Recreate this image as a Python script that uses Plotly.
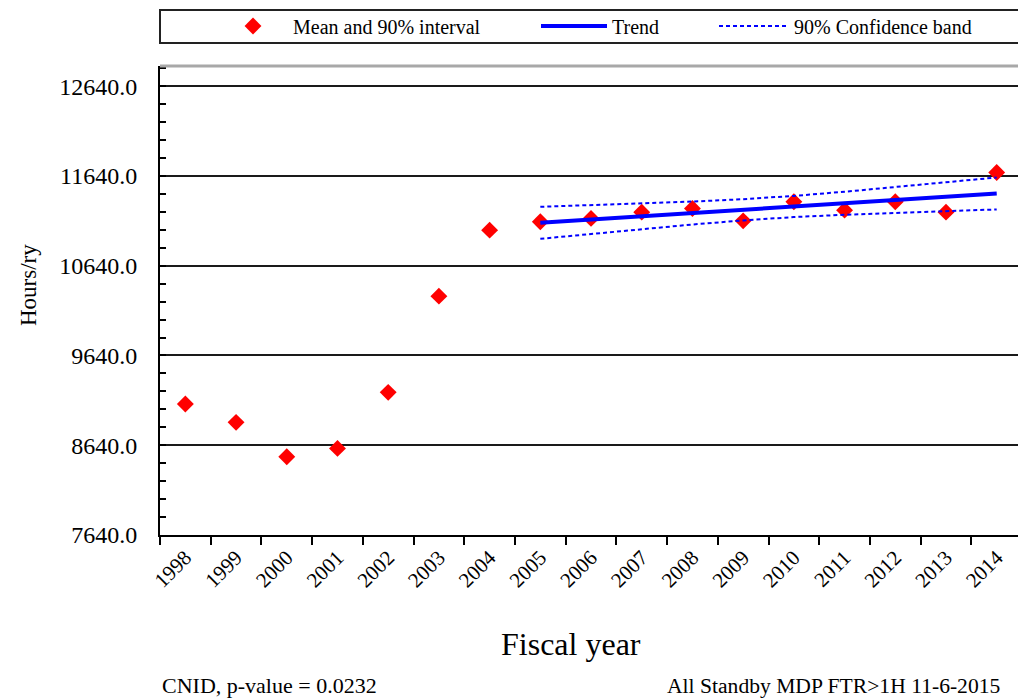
import plotly.graph_objects as go

# --------------------------------------------------
# Data
# --------------------------------------------------
years = [str(y) for y in range(1998, 2015)]
mean_hours = [9100, 8895, 8512, 8605, 9229, 10301, 11036, 11129, 11167,
              11237, 11278, 11140, 11352, 11259, 11352, 11237, 11679]

trend_years = [str(y) for y in range(2005, 2015)]
trend_hours = [11118, 11154, 11191, 11227, 11263, 11300, 11336, 11372, 11409, 11445]
band_upper = [11296, 11314, 11334, 11355, 11381, 11418, 11464, 11515, 11569, 11623]
band_lower = [10940, 10994, 11048, 11099, 11145, 11182, 11208, 11229, 11249, 11267]

y_ticks = [7640, 8640, 9640, 10640, 11640, 12640]

FONT = "Liberation Serif"

fig = go.Figure()

fig.add_trace(go.Scatter(
    x=years, y=mean_hours, mode='markers', name='Mean and 90% interval',
    marker=dict(symbol='diamond', size=13, color='#ff0000'),
    legend='legend'
))
fig.add_trace(go.Scatter(
    x=trend_years, y=trend_hours, mode='lines', name='Trend',
    line=dict(color='#0000ff', width=4),
    legend='legend2'
))
fig.add_trace(go.Scatter(
    x=trend_years, y=band_upper, mode='lines', name='90% Confidence band',
    line=dict(color='#0000ff', width=2, dash='4px,3px'),
    legendgroup='band', legend='legend3'
))
fig.add_trace(go.Scatter(
    x=trend_years, y=band_lower, mode='lines', name='90% Confidence band',
    line=dict(color='#0000ff', width=2, dash='4px,3px'),
    legendgroup='band', showlegend=False, legend='legend3'
))

# plot area in pixels: left 160, right 1018, top 66, bottom 535
def px_x(p):
    return (p - 160) / 858

def px_y(p):
    return (535 - p) / 469

legend_style = dict(
    orientation='h', yanchor='middle', y=px_y(26), xanchor='left',
    bgcolor='rgba(0,0,0,0)', borderwidth=0,
    font=dict(family=FONT, size=20, color='black')
)

fig.update_layout(
    width=1018, height=700,
    margin=dict(l=160, r=0, t=66, b=165),
    paper_bgcolor='white', plot_bgcolor='white',
    font=dict(family=FONT, color='black'),
    showlegend=True,
    legend=dict(legend_style, x=px_x(213), itemwidth=70),
    legend2=dict(legend_style, x=px_x(536), itemwidth=66),
    legend3=dict(legend_style, x=px_x(714), itemwidth=70),
    shapes=[
        dict(type='rect', xref='paper', yref='paper',
             x0=px_x(160), x1=px_x(1030), y0=px_y(43), y1=px_y(10),
             line=dict(color='#222222', width=2)),
        dict(type='line', xref='paper', yref='paper',
             x0=0, x1=1, y0=1, y1=1,
             line=dict(color='#a8a8a8', width=3)),
    ],
    annotations=[
        dict(text='Hours/ry', xref='paper', yref='paper', x=px_x(28), y=px_y(285),
             xanchor='center', yanchor='middle',
             textangle=-90, showarrow=False, font=dict(size=23)),
        dict(text='Fiscal year', xref='paper', yref='paper', x=px_x(571), y=px_y(644),
             xanchor='center', yanchor='middle',
             showarrow=False, font=dict(size=32)),
        dict(text='CNID, p-value = 0.0232', xref='paper', yref='paper',
             x=px_x(160), y=px_y(685), xanchor='left', yanchor='middle',
             showarrow=False, font=dict(size=22)),
        dict(text='All Standby MDP FTR>1H 11-6-2015', xref='paper', yref='paper',
             x=px_x(1002), y=px_y(686), xanchor='right', yanchor='middle',
             showarrow=False, font=dict(size=21.6)),
    ]
)

fig.update_xaxes(
    type='category', categoryorder='array', categoryarray=years,
    range=[-0.5, 16.42], tickson='boundaries',
    ticks='outside', ticklen=8, tickwidth=2, tickcolor='black',
    tickangle=-45, tickfont=dict(family=FONT, size=21, color='black'),
    showline=True, linecolor='black', linewidth=2,
    showgrid=False, zeroline=False
)

fig.update_yaxes(
    range=[7640, 12865], tickvals=y_ticks, tickformat='.1f',
    ticks='inside', ticklen=6, tickwidth=2, tickcolor='black',
    ticklabelstandoff=16,
    tickfont=dict(family=FONT, size=24, color='black'),
    minor=dict(dtick=200, tick0=7640, ticks='inside', ticklen=6,
               tickwidth=2, tickcolor='black', showgrid=False),
    showline=True, linecolor='black', linewidth=2,
    showgrid=True, gridcolor='#1a1a1a', gridwidth=2, zeroline=False
)

# drop the default 8px page margin so the figure fills the window exactly
fig.write_html(
    "out.html",
    config=dict(displayModeBar=False),
    post_script="document.body.style.margin='0';document.body.style.overflow='hidden';"
)
